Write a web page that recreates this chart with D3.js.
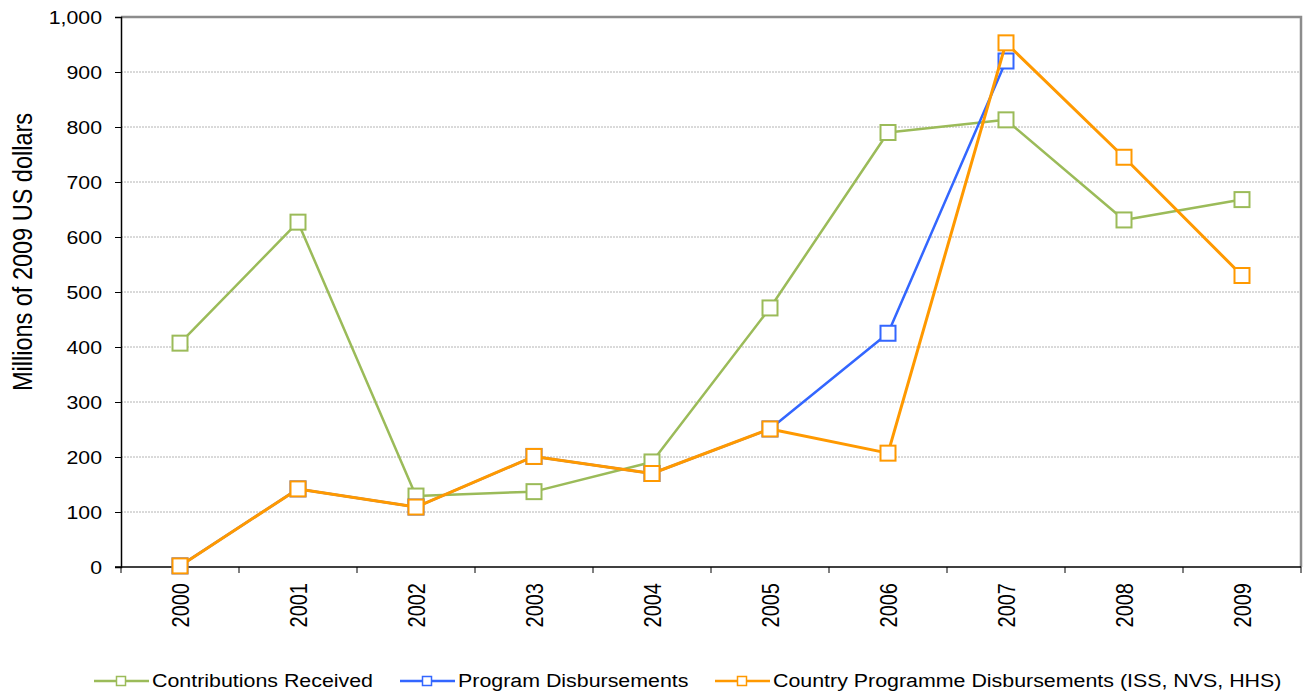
<!DOCTYPE html>
<html>
<head>
<meta charset="utf-8">
<script src="https://cdn.jsdelivr.net/npm/d3@7"></script>
<style>
  html, body { margin: 0; padding: 0; background: #fff; }
  svg { display: block; font-family: "Liberation Sans", Arial, sans-serif; }
</style>
</head>
<body>
<svg id="chart" width="1312" height="695"></svg>
<script>
// Annual figures, millions of 2009 US dollars
const years = ["2000", "2001", "2002", "2003", "2004", "2005", "2006", "2007", "2008", "2009"];
const contributions = [407, 627, 129, 137, 191, 471, 790, 813, 631, 668];
const programDisb = [2, 142, 109, 201, 170, 251, 425, 920, null, null];
const countryDisb = [2, 142, 109, 201, 170, 251, 207, 953, 745, 530];
const yTicks = [0, 100, 200, 300, 400, 500, 600, 700, 800, 900, 1000];

const seriesList = [
  { name: "Contributions Received", values: contributions, color: "#9BBB59", width: 2.5 },
  { name: "Program Disbursements", values: programDisb, color: "#3366FF", width: 2.5 },
  { name: "Country Programme Disbursements (ISS, NVS, HHS)", values: countryDisb, color: "#FF9900", width: 3 }
];

const svg = d3.select("#chart");
const m = { left: 121, top: 17, right: 1301, bottom: 567 };
const widen = 1.15; // glyph widening used for all text

const x = d3.scaleBand().domain(years).range([m.left, m.right]);
const y = d3.scaleLinear().domain([0, 1000]).range([m.bottom, m.top]);

// horizontal gridlines
svg.append("g")
  .selectAll("line")
  .data(yTicks.filter(t => t > 0 && t < 1000))
  .join("line")
  .attr("x1", m.left).attr("x2", m.right)
  .attr("y1", d => y(d)).attr("y2", d => y(d))
  .attr("stroke", "#b4b4b4").attr("stroke-width", 1)
  .attr("stroke-dasharray", "2,1");

// plot frame: top and right edges
svg.append("path")
  .attr("d", `M${m.left},${m.top}H${m.right}V${m.bottom}`)
  .attr("fill", "none").attr("stroke", "#8c8c8c").attr("stroke-width", 2.5);

// y axis
const yAxis = svg.append("g")
  .attr("transform", `translate(${m.left},0)`)
  .call(d3.axisLeft(y).tickValues(yTicks).tickSize(6).tickFormat(""));
yAxis.select(".domain").attr("stroke", "#000").attr("stroke-width", 1.5);
yAxis.selectAll(".tick line").attr("stroke", "#000");

svg.append("g").selectAll("text")
  .data(yTicks)
  .join("text")
  .attr("transform", d => `translate(102,${y(d)}) scale(${widen},1)`)
  .attr("text-anchor", "end")
  .attr("dy", "0.36em")
  .attr("font-size", 18.5)
  .text(d => d3.format(",")(d));

// x axis: ticks on category boundaries
const xAxisG = svg.append("g").attr("transform", `translate(0,${m.bottom})`);
xAxisG.append("line")
  .attr("x1", m.left - 6).attr("x2", m.right)
  .attr("y1", 0).attr("y2", 0)
  .attr("stroke", "#000").attr("stroke-width", 1.5);
const boundaries = years.map(d => x(d)).concat([x(years[years.length - 1]) + x.bandwidth()]);
xAxisG.selectAll(".bt")
  .data(boundaries)
  .join("line")
  .attr("class", "bt")
  .attr("x1", d => d).attr("x2", d => d)
  .attr("y1", 0).attr("y2", 6)
  .attr("stroke", "#000");
xAxisG.selectAll(".yl")
  .data(years)
  .join("text")
  .attr("class", "yl")
  .attr("transform", d => `translate(${x(d) + x.bandwidth() / 2 + 9},16) rotate(-90) scale(1,1.18)`)
  .attr("text-anchor", "end")
  .attr("font-size", 20)
  .text(d => d);

// y axis title
svg.append("text")
  .attr("transform", `translate(32,252) rotate(-90) scale(1,1.2)`)
  .attr("text-anchor", "middle")
  .attr("font-size", 23.5)
  .text("Millions of 2009 US dollars");

// series lines and markers
const cx = d => x(d) + x.bandwidth() / 2;
const line = d3.line()
  .defined(v => v != null)
  .x((v, i) => cx(years[i]))
  .y(v => y(v));
const mk = 15;

seriesList.forEach(s => {
  const g = svg.append("g");
  g.append("path")
    .attr("d", line(s.values))
    .attr("fill", "none").attr("stroke", s.color).attr("stroke-width", s.width)
    .attr("stroke-linejoin", "round");
  const pts = s.values.map((v, i) => ({ v, year: years[i] })).filter(p => p.v != null);
  g.selectAll("rect")
    .data(pts)
    .join("rect")
    .attr("x", p => cx(p.year) - mk / 2)
    .attr("y", p => y(p.v) - mk / 2)
    .attr("width", mk).attr("height", mk)
    .attr("fill", "#fff").attr("stroke", s.color).attr("stroke-width", 2);
});

// legend
const legendX = [94, 400, 715];
const legend = svg.append("g");
seriesList.forEach((s, i) => {
  const lx = legendX[i], ly = 681;
  legend.append("line")
    .attr("x1", lx).attr("x2", lx + 55).attr("y1", ly).attr("y2", ly)
    .attr("stroke", s.color).attr("stroke-width", 2.5);
  legend.append("rect")
    .attr("x", lx + 27 - 4.5).attr("y", ly - 4.5)
    .attr("width", 9).attr("height", 9)
    .attr("fill", "#fff").attr("stroke", s.color).attr("stroke-width", 1.5);
  legend.append("text")
    .attr("transform", `translate(${lx + 58},687) scale(${widen},1)`)
    .attr("font-size", 18.6)
    .text(s.name);
});
</script>
</body>
</html>
